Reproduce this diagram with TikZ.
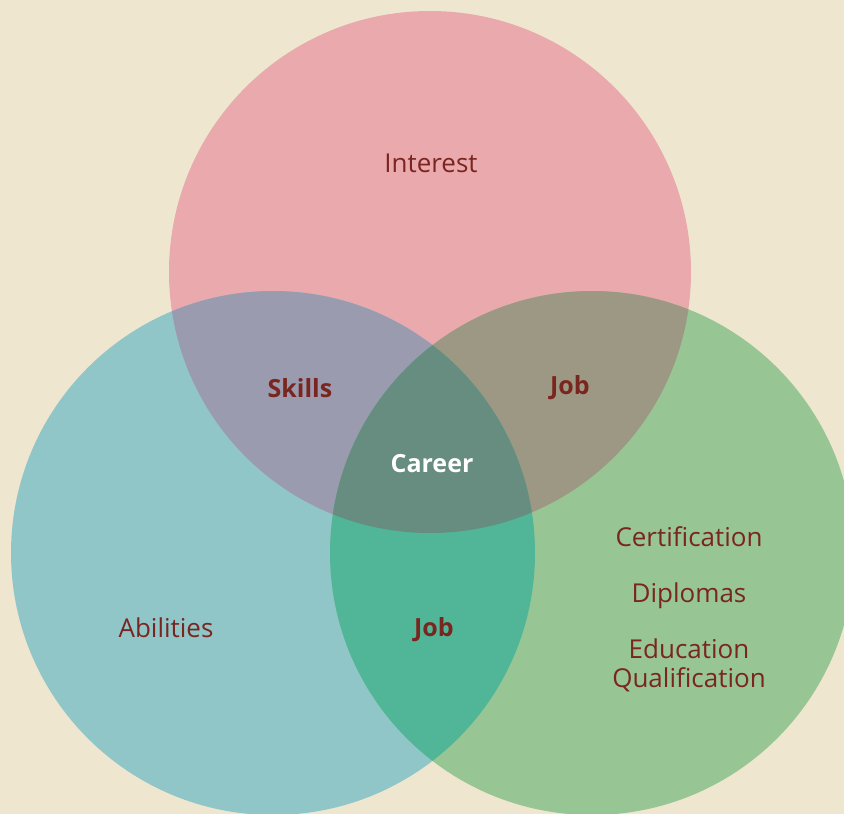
\documentclass[tikz,border=0pt]{standalone}
\usepackage{fontspec}
\setmainfont{Open Sans}
\usetikzlibrary{positioning}

\definecolor{bgcream}{HTML}{EFE6CF}
\definecolor{interestpink}{HTML}{EAAAAD}
\definecolor{abilityteal}{HTML}{91C6C8}
\definecolor{degreegreen}{HTML}{98C594}
\definecolor{skillspurple}{HTML}{9B9BB0}
\definecolor{jobtaupe}{HTML}{9D9883}
\definecolor{jobsea}{HTML}{50B697}
\definecolor{careergrey}{HTML}{678C80}
\definecolor{textred}{HTML}{7A2620}

\begin{document}
\begin{tikzpicture}[x=1pt, y=-1pt,
    txt/.style={text=textred, font=\fontsize{26}{29}\selectfont},
    boldtxt/.style={text=textred, font=\fontsize{25}{29}\selectfont\bfseries}]
  % Background
  \fill[bgcream] (0,0) rectangle (844,814);
  \useasboundingbox (0,0) rectangle (844,814);

  % Centres
  \coordinate (ctop) at (430,272);
  \coordinate (cleft) at (273,553);
  \coordinate (cright) at (592,553);

  % Circles
  \fill[interestpink] (ctop) circle (261pt);
  \fill[abilityteal] (cleft) circle (262pt);
  \fill[degreegreen] (cright) circle (262pt);

  % Overlaps
  \begin{scope}
    \clip (ctop) circle (261pt);
    \fill[skillspurple] (cleft) circle (262pt);
    \fill[jobtaupe] (cright) circle (262pt);
  \end{scope}
  \begin{scope}
    \clip (cleft) circle (262pt);
    \fill[jobsea] (cright) circle (262pt);
  \end{scope}
  \begin{scope}
    \clip (ctop) circle (261pt);
    \clip (cleft) circle (262pt);
    \fill[careergrey] (cright) circle (262pt);
  \end{scope}

  % Labels
  \node[txt] (interest) at (431,163) {Interest};
  \node[txt] (abilities) at (166,628) {Abilities};
  \node[boldtxt] (skills) at (300,388) {Skills};
  \node[boldtxt] (jobtop) at (570,388) {Job};
  \node[boldtxt] (jobbot) at (434,630) {Job};
  \node[boldtxt, text=white] (career) at (432,464) {Career};

  % Qualifications
  \node[txt] (cert) at (689,537) {Certification};
  \node[txt] (dipl) at (689,596) {Diplomas};
  \node[txt, align=center] (educ) at (689,665) {Education\\Qualification};
\end{tikzpicture}
\end{document}
